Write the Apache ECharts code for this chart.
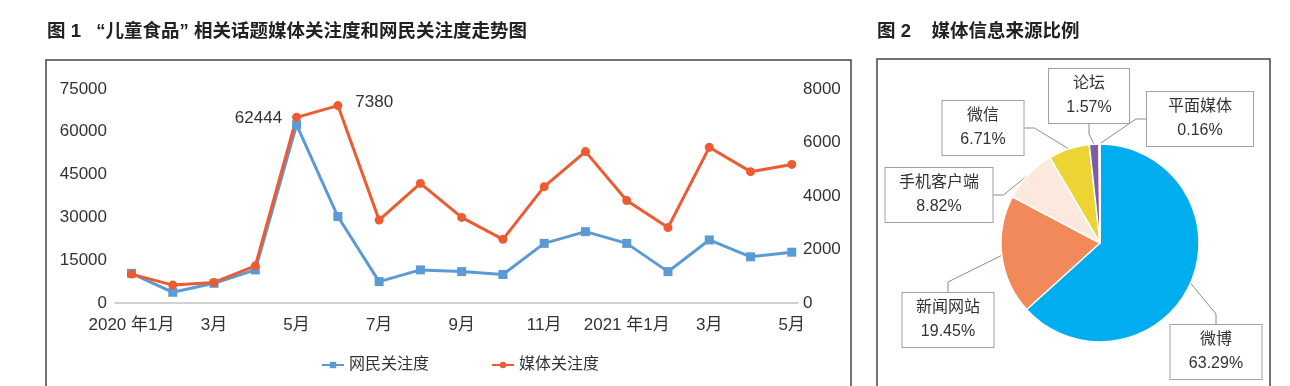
<!DOCTYPE html>
<html>
<head>
<meta charset="utf-8">
<script src="https://cdn.jsdelivr.net/npm/echarts@6/dist/echarts.min.js"></script>
<style>
html,body{margin:0;padding:0;background:#fff;}
#c{width:1290px;height:386px;}
</style>
</head>
<body>
<div id="c"></div>
<script>
// ---- data ----
const months = ['2020 年1月','2月','3月','4月','5月','6月','7月','8月','9月','10月','11月','12月','2021 年1月','2月','3月','4月','5月'];
const netizenAttention = [10400, 3750, 6900, 11600, 62444, 30300, 7500, 11600, 11000, 10000, 20900, 25000, 20900, 11000, 22100, 16200, 17800];
const mediaAttention = [1080, 670, 770, 1390, 6940, 7380, 3100, 4470, 3200, 2380, 4350, 5660, 3830, 2820, 5820, 4910, 5180];
const leftTicks = [0, 15000, 30000, 45000, 60000, 75000];
const rightTicks = [0, 2000, 4000, 6000, 8000];
const xTickIndices = [0, 2, 4, 6, 8, 10, 12, 14, 16];
const sourceNames = ['微博', '新闻网站', '手机客户端', '微信', '论坛', '平面媒体'];
const sourceShares = [63.29, 19.45, 8.82, 6.71, 1.57, 0.16];

// ---- layout / style ----
const FONT = '"Liberation Sans", "Noto Sans CJK SC", sans-serif';
const pieColors = ['#00AEEF', '#F2895B', '#FCE8DD', '#EBD433', '#7E5CA8', '#DCE6EF'];
// label box centers and widths (layout only)
const pieLabelBox = [
  [1216, 352, 91],
  [948, 320, 91],
  [939, 195, 107],
  [983, 128, 81],
  [1089, 96, 80],
  [1200, 119, 106]
];

const chart = echarts.init(document.getElementById('c'), null, {renderer: 'canvas'});

const lineLabelIdxNet = 4, lineLabelIdxMedia = 5;

const option = {
  animation: false,
  textStyle: {fontFamily: FONT},
  title: [
    {text: '图 1   “儿童食品” 相关话题媒体关注度和网民关注度走势图', left: 47, top: 23, padding: 0,
     textStyle: {fontSize: 18.5, fontWeight: 'bold', color: '#222', fontFamily: FONT}},
    {text: '图 2    媒体信息来源比例', left: 877, top: 23, padding: 0,
     textStyle: {fontSize: 18.5, fontWeight: 'bold', color: '#222', fontFamily: FONT}}
  ],
  graphic: [
    {type: 'rect', shape: {x: 46, y: 60, width: 805, height: 340}, style: {fill: 'none', stroke: '#444', lineWidth: 1.5}, silent: true},
    {type: 'rect', shape: {x: 877, y: 59, width: 393, height: 340}, style: {fill: 'none', stroke: '#444', lineWidth: 1.5}, silent: true}
  ],
  legend: {
    left: 316, top: 352,
    itemWidth: 22, itemHeight: 8, itemGap: 62,
    textStyle: {fontSize: 16, color: '#333', fontFamily: FONT},
    data: ['网民关注度', '媒体关注度']
  },
  grid: {left: 115, right: 492, top: 89, bottom: 83, containLabel: false},
  xAxis: {
    type: 'value', min: -0.4, max: 16.15,
    axisLine: {show: true, lineStyle: {color: '#c4c4c4', width: 1.5}},
    axisTick: {show: false},
    splitLine: {show: false},
    axisLabel: {
      customValues: xTickIndices,
      formatter: v => months[Math.round(v)],
      fontSize: 17, color: '#333', margin: 14
    }
  },
  yAxis: [
    {type: 'value', min: leftTicks[0], max: leftTicks[leftTicks.length - 1], interval: 15000,
     axisLine: {show: false}, axisTick: {show: false}, splitLine: {show: false},
     axisLabel: {fontSize: 17, color: '#333', margin: 8, formatter: v => String(v)}},
    {type: 'value', min: rightTicks[0], max: rightTicks[rightTicks.length - 1], interval: 2000,
     axisLine: {show: false}, axisTick: {show: false}, splitLine: {show: false},
     axisLabel: {fontSize: 17, color: '#333', margin: 5, formatter: v => String(v)}}
  ],
  series: [
    {
      name: '网民关注度', type: 'line', yAxisIndex: 0,
      data: netizenAttention.map((v, i) => ({
        value: [i, v],
        label: i === lineLabelIdxNet ? {show: true, position: 'left', distance: 10, offset: [0, -7], fontSize: 17, color: '#333', formatter: p => p.value[1]} : {show: false}
      })),
      symbol: 'rect', symbolSize: 9,
      lineStyle: {color: '#5B9BD5', width: 3},
      itemStyle: {color: '#5B9BD5'}
    },
    {
      name: '媒体关注度', type: 'line', yAxisIndex: 1,
      data: mediaAttention.map((v, i) => ({
        value: [i, v],
        label: i === lineLabelIdxMedia ? {show: true, position: 'right', distance: 13, offset: [0, -3], fontSize: 17, color: '#333', formatter: p => p.value[1]} : {show: false}
      })),
      symbol: 'circle', symbolSize: 9,
      lineStyle: {color: '#EC5B32', width: 3},
      itemStyle: {color: '#EC5B32'}
    },
    {
      name: '媒体信息来源', type: 'pie',
      center: [1100, 243], radius: 99,
      startAngle: 90, clockwise: true,
      avoidLabelOverlap: false,
      itemStyle: {borderColor: '#fff', borderWidth: 1.5},
      data: sourceNames.map((n, i) => ({
        name: n, value: sourceShares[i],
        itemStyle: {color: pieColors[i]},
        label: {width: pieLabelBox[i][2]}
      })),
      label: {
        show: true, position: 'outside',
        formatter: p => p.name + '\n' + p.value.toFixed(2) + '%',
        fontSize: 16, color: '#333', lineHeight: 24, align: 'center',
        backgroundColor: '#fff', borderColor: '#a0a0a0', borderWidth: 1,
        padding: [3, 0]
      },
      labelLine: {show: true, length: 10, length2: 10, lineStyle: {color: '#8c8c8c', width: 1}},
      labelLayout: function (params) {
        const b = pieLabelBox[params.dataIndex];
        return {x: b[0], y: b[1], align: 'center', verticalAlign: 'middle'};
      }
    }
  ]
};
chart.setOption(option);
</script>
</body>
</html>
